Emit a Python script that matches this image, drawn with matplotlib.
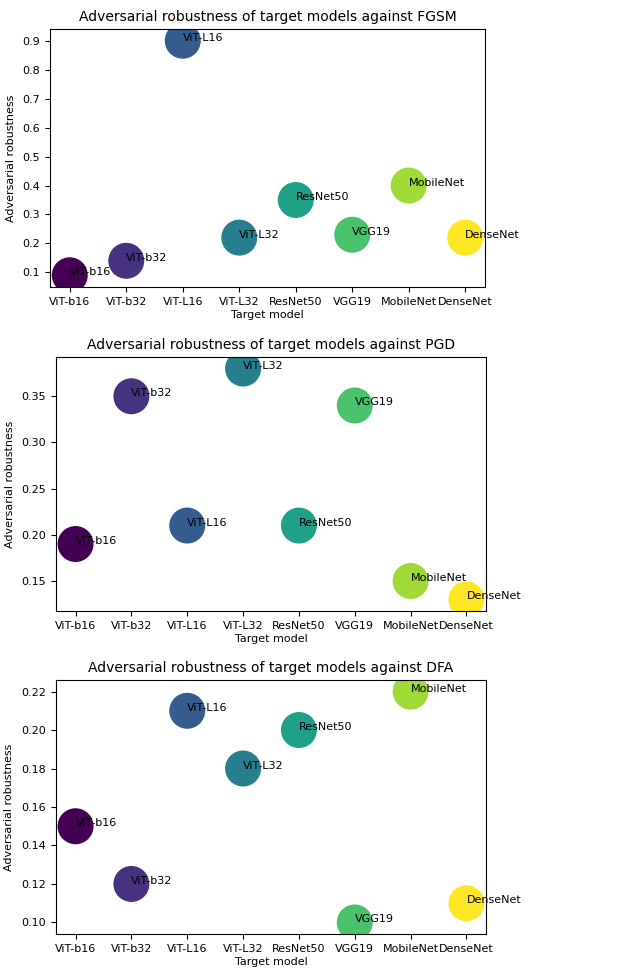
import matplotlib.pyplot as plt
import numpy as np

models = ['ViT-b16', 'ViT-b32', 'ViT-L16', 'ViT-L32', 'ResNet50', 'VGG19', 'MobileNet', 'DenseNet']
fgsm = [0.09, 0.14, 0.90, 0.22, 0.35, 0.23, 0.40, 0.22]
pgd = [0.19, 0.35, 0.21, 0.38, 0.21, 0.34, 0.15, 0.13]
dfa = [0.15, 0.12, 0.21, 0.18, 0.20, 0.10, 0.22, 0.11]
attacks = ['FGSM', 'PGD', 'DFA']

fig = plt.figure(figsize=(6.23, 9.71), dpi=100)
boxes = [
    [50/623, 1 - 287/971, 435/623, 258/971],
    [56/623, 1 - 611/971, 430/623, 254/971],
    [56/623, 1 - 934/971, 430/623, 254/971],
]

fs = 8
x = np.arange(len(models))
for box, attack, vals in zip(boxes, attacks, [fgsm, pgd, dfa]):
    ax = fig.add_axes(box)
    ax.scatter(x, vals, s=620, c=x, cmap='viridis')
    for i, v in enumerate(vals):
        ax.text(x[i], v, models[i], fontsize=fs)
    ax.set_xticks(x)
    ax.set_xticklabels(models, fontsize=fs)
    ax.tick_params(axis='y', labelsize=fs)
    ax.set_xlabel('Target model', fontsize=fs, labelpad=2)
    ax.set_ylabel('Adversarial robustness', fontsize=fs, labelpad=5)
    ax.set_title(f'Adversarial robustness of target models against {attack}', fontsize=10)

plt.savefig('out.png', dpi=100)
